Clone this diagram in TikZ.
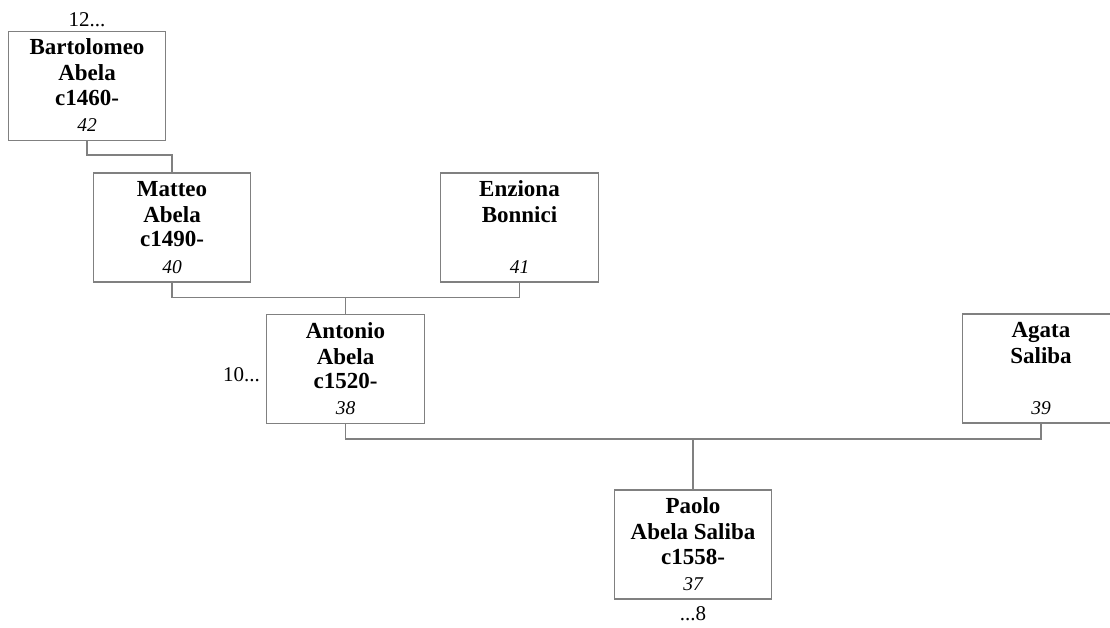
\documentclass[tikz,border=0pt]{standalone}
\usepackage{fontspec}
\setmainfont{Liberation Serif}
\usetikzlibrary{calc}
\tikzset{
  person/.style={draw={rgb,255:red,128;green,128;blue,128}, line width=1.2pt, fill=white,
    minimum width=157.5pt, minimum height=109pt, inner sep=0pt, outer sep=0pt},
  nameline/.style={anchor=base, inner sep=0pt, font=\fontsize{23}{25}\selectfont\bfseries},
  numline/.style={anchor=base, inner sep=0pt, font=\fontsize{19.5}{22}\selectfont\itshape},
  extra/.style={anchor=base, inner sep=0pt, font=\fontsize{21}{24}\selectfont},
  link/.style={draw={rgb,255:red,128;green,128;blue,128}, line width=1.1pt},
}
\newcommand{\personbox}[7]{%
  \node[person] (#1) at (#2,#3) {};
  \node[nameline] (#1-a) at ($(#1.north)+(0,23.5)$) {#4};
  \node[nameline] (#1-b) at ($(#1.north)+(0,49.5)$) {#5};
  \node[nameline] (#1-c) at ($(#1.north)+(0,74)$) {#6};
  \node[numline] (#1-n) at ($(#1.north)+(0,100)$) {#7};
}
\begin{document}
\begin{tikzpicture}[x=1pt, y=-1pt]
\clip (0,0) rectangle (1110,628);
\fill[white] (0,0) rectangle (1110,628);
% connectors
\coordinate (j1) at (87,155);
\coordinate (j2) at (172,155);
\coordinate (j3) at (172,297.5);
\coordinate (j4) at (519.5,297.5);
\coordinate (j5) at (345.5,297.5);
\coordinate (j6) at (345.5,439);
\coordinate (j7) at (1041,439);
\coordinate (j8) at (693,439);
\personbox{bart}{87}{86}{Bartolomeo}{Abela}{c1460-}{42}
\personbox{matteo}{172}{227.5}{Matteo}{Abela}{c1490-}{40}
\personbox{enz}{519.5}{227.5}{Enziona}{Bonnici}{}{41}
\personbox{anto}{345.5}{369}{Antonio}{Abela}{c1520-}{38}
\personbox{agata}{1041}{368.5}{Agata}{Saliba}{}{39}
\personbox{paolo}{693}{544.5}{Paolo}{Abela Saliba}{c1558-}{37}
\draw[link] (bart.south) -- (j1) -- (j2) -- (matteo.north);
\draw[link] (matteo.south) -- (j3) -- (j4) -- (enz.south);
\draw[link] (j5) -- (anto.north);
\draw[link] (anto.south) -- (j6) -- (j7) -- (agata.south);
\draw[link] (j8) -- (paolo.north);
% continuation marks
\node[extra] (more12) at (87,27) {12...};
\node[extra, anchor=base east] (more10) at (260,381) {10...};
\node[extra] (more8) at (693,620) {...8};
\end{tikzpicture}
\end{document}
